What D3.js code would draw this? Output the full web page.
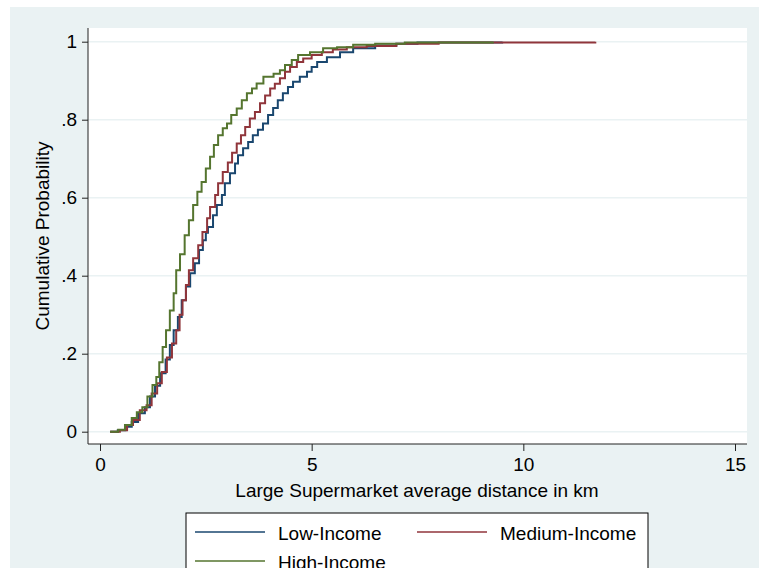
<!DOCTYPE html>
<html>
<head>
<meta charset="utf-8">
<script src="https://cdn.jsdelivr.net/npm/d3@7"></script>
<style>
  body { margin: 0; background: #fff; }
  text { font-family: "Liberation Sans", Arial, sans-serif; fill: #000; }
</style>
</head>
<body>
<div id="chart"></div>
<script>
// ECDF steps (km, cumulative probability)
var lowX  = [0.24, 0.42, 0.6, 0.75, 0.9, 1.06, 1.18, 1.3, 1.42, 1.55, 1.65, 1.74, 1.84, 1.93, 2.03, 2.13, 2.24, 2.34, 2.43, 2.5, 2.55, 2.67, 2.76, 2.88, 2.95, 3.07, 3.19, 3.26, 3.38, 3.5, 3.61, 3.73, 3.85, 3.97, 4.09, 4.2, 4.32, 4.44, 4.56, 4.72, 4.89, 5.0, 5.13, 5.36, 5.67, 5.98, 6.5, 7.0, 7.5, 9.5];
var lowY  = [0, 0.004, 0.013, 0.025, 0.047, 0.063, 0.09, 0.118, 0.15, 0.185, 0.222, 0.26, 0.294, 0.337, 0.372, 0.406, 0.432, 0.466, 0.491, 0.51, 0.525, 0.555, 0.581, 0.607, 0.637, 0.663, 0.688, 0.709, 0.727, 0.743, 0.76, 0.774, 0.79, 0.812, 0.83, 0.85, 0.868, 0.884, 0.897, 0.91, 0.923, 0.935, 0.948, 0.96, 0.973, 0.983, 0.99, 0.995, 0.998, 1];

var medX  = [0.24, 0.47, 0.64, 0.78, 0.94, 1.1, 1.22, 1.35, 1.46, 1.58, 1.7, 1.8, 1.88, 1.95, 2.03, 2.1, 2.2, 2.32, 2.42, 2.53, 2.6, 2.72, 2.79, 2.9, 3.02, 3.12, 3.23, 3.33, 3.43, 3.54, 3.66, 3.78, 3.9, 4.02, 4.13, 4.25, 4.37, 4.49, 4.65, 4.8, 5.0, 5.24, 5.5, 5.83, 6.3, 7.0, 8.0, 11.7];
var medY  = [0, 0.004, 0.017, 0.03, 0.055, 0.068, 0.098, 0.124, 0.153, 0.19, 0.226, 0.26, 0.3, 0.337, 0.376, 0.414, 0.445, 0.478, 0.512, 0.547, 0.576, 0.607, 0.637, 0.666, 0.69, 0.715, 0.739, 0.76, 0.781, 0.803, 0.82, 0.842, 0.862, 0.88, 0.892, 0.906, 0.923, 0.935, 0.948, 0.957, 0.966, 0.973, 0.98, 0.986, 0.989, 0.995, 0.998, 1];

var highX = [0.24, 0.43, 0.59, 0.75, 0.87, 1.0, 1.12, 1.24, 1.33, 1.4, 1.48, 1.56, 1.65, 1.74, 1.8, 1.89, 2.0, 2.1, 2.2, 2.3, 2.4, 2.5, 2.6, 2.69, 2.79, 2.9, 3.0, 3.1, 3.23, 3.35, 3.47, 3.59, 3.7, 3.86, 4.1, 4.25, 4.37, 4.53, 4.68, 4.96, 5.27, 5.6, 5.98, 6.5, 7.2, 9.28];
var highY = [0, 0.005, 0.017, 0.035, 0.05, 0.063, 0.09, 0.12, 0.14, 0.178, 0.217, 0.26, 0.311, 0.355, 0.414, 0.455, 0.504, 0.542, 0.581, 0.615, 0.64, 0.675, 0.705, 0.735, 0.76, 0.778, 0.79, 0.812, 0.829, 0.85, 0.868, 0.88, 0.893, 0.91, 0.918, 0.927, 0.94, 0.953, 0.966, 0.973, 0.983, 0.986, 0.992, 0.995, 0.998, 1];

var seriesNames = ["Low-Income", "Medium-Income", "High-Income"];
var seriesColors = ["#1a476f", "#90353b", "#55752f"];
var xTicks = [0, 5, 10, 15];
var yTicks = [0, 0.2, 0.4, 0.6, 0.8, 1];
var yTickLabels = ["0", ".2", ".4", ".6", ".8", "1"];

var width = 759,
    height = 568,
    fontSize = "19px",
    plot = { left: 88, right: 747, top: 28, bottom: 444 };

var x = d3.scaleLinear().domain([0, 15]).range([100, 735]);
var y = d3.scaleLinear().domain([0, 1]).range([431.7, 41.7]);

var svg = d3.select("#chart").append("svg")
    .attr("width", width)
    .attr("height", height);

// outer graph region
svg.append("rect")
    .attr("x", 10).attr("y", 7)
    .attr("width", width - 10).attr("height", height - 7)
    .attr("fill", "#eaf2f3");

// plot region
svg.append("rect")
    .attr("x", plot.left).attr("y", plot.top)
    .attr("width", plot.right - plot.left).attr("height", plot.bottom - plot.top)
    .attr("fill", "#fff");

// gridlines
svg.append("g").selectAll("line").data(yTicks).enter().append("line")
    .attr("x1", plot.left).attr("x2", plot.right)
    .attr("y1", function(d) { return y(d); })
    .attr("y2", function(d) { return y(d); })
    .attr("stroke", "#eaf2f3")
    .attr("stroke-width", 1.5);

// y axis
var yAxis = d3.axisLeft(y)
    .tickValues(yTicks)
    .tickSize(6)
    .tickPadding(5)
    .tickFormat(function(d, i) { return yTickLabels[i]; });

var gy = svg.append("g")
    .attr("transform", "translate(" + plot.left + ",0)")
    .call(yAxis);
gy.select(".domain").attr("d", "M0," + plot.top + "V" + plot.bottom);

// x axis
var xAxis = d3.axisBottom(x)
    .tickValues(xTicks)
    .tickSize(7)
    .tickPadding(7)
    .tickFormat(d3.format("d"));

var gx = svg.append("g")
    .attr("transform", "translate(0," + plot.bottom + ")")
    .call(xAxis);
gx.select(".domain").attr("d", "M" + plot.left + ",0H" + plot.right);

svg.selectAll(".tick text")
    .style("font-size", fontSize)
    .style("font-family", "'Liberation Sans', Arial, sans-serif");
svg.selectAll(".domain, .tick line").attr("stroke", "#222");

// axis titles
svg.append("text")
    .attr("x", 417).attr("y", 497)
    .attr("text-anchor", "middle")
    .style("font-size", fontSize)
    .text("Large Supermarket average distance in km");

svg.append("text")
    .attr("transform", "translate(49,236) rotate(-90)")
    .attr("text-anchor", "middle")
    .style("font-size", fontSize)
    .text("Cumulative Probability");

// step lines
var line = d3.line()
    .x(function(d) { return x(d[0]); })
    .y(function(d) { return y(d[1]); })
    .curve(d3.curveStepAfter);

var series = [d3.zip(lowX, lowY), d3.zip(medX, medY), d3.zip(highX, highY)];

svg.append("g").selectAll("path").data(series).enter().append("path")
    .attr("d", line)
    .attr("fill", "none")
    .attr("stroke", function(d, i) { return seriesColors[i]; })
    .attr("stroke-width", 2);

// legend
var legend = svg.append("g");
legend.append("rect")
    .attr("x", 186).attr("y", 513)
    .attr("width", 462).attr("height", 80)
    .attr("fill", "#fff")
    .attr("stroke", "#000")
    .attr("stroke-width", 1);

var legendPos = [
    { lx: 195, ty: 532 },
    { lx: 417, ty: 532 },
    { lx: 195, ty: 561 }
];

seriesNames.forEach(function(name, i) {
    var p = legendPos[i];
    legend.append("line")
        .attr("x1", p.lx).attr("x2", p.lx + 70)
        .attr("y1", p.ty).attr("y2", p.ty)
        .attr("stroke", seriesColors[i])
        .attr("stroke-width", 1.5);
    legend.append("text")
        .attr("x", p.lx + 83).attr("y", p.ty + 8)
        .style("font-size", fontSize)
        .text(name);
});
</script>
</body>
</html>
